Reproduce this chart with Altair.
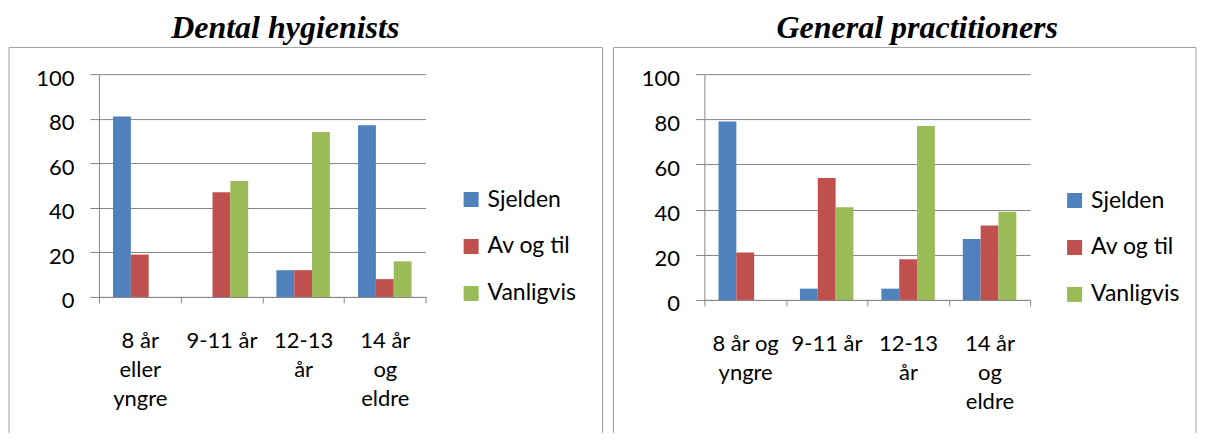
import altair as alt
import pandas as pd

# ---- data -------------------------------------------------------------
series = ["Sjelden", "Av og til", "Vanligvis"]
series_colors = ["#4F81BD", "#C0504D", "#9BBB59"]
y_ticks = [0, 20, 40, 60, 80, 100]

dh_title = "Dental hygienists"
dh_categories = ["8 år|eller|yngre", "9-11 år", "12-13|år", "14 år|og|eldre"]
dh_sjelden = [81, 0, 12, 77]
dh_av_og_til = [19, 47, 12, 8]
dh_vanligvis = [0, 52, 74, 16]

gp_title = "General practitioners"
gp_categories = ["8 år og|yngre", "9-11 år", "12-13|år", "14 år|og|eldre"]
gp_sjelden = [79, 5, 5, 27]
gp_av_og_til = [21, 54, 18, 33]
gp_vanligvis = [0, 41, 77, 39]

# ---- style ------------------------------------------------------------
GRID = "#868686"
BORDER = "#a0a0a0"
FONT = "Lato"
TITLE_FONT = "Liberation Serif"


def long_table(cats, cols):
    rows = []
    for s, vals in zip(series, cols):
        for c, v in zip(cats, vals):
            rows.append({"cat": c, "series": s, "value": v})
    return pd.DataFrame(rows)


def panel(title, cats, cols, width, height, title_dx, frame, legend_xy):
    left, top, right, bottom = frame
    df = long_table(cats, cols)
    bars = alt.Chart(df).mark_bar().encode(
        x=alt.X(
            "cat:N", sort=cats, title=None,
            scale=alt.Scale(paddingInner=0, paddingOuter=0),
            axis=alt.Axis(
                tickBand="extent", labelAngle=0,
                labelExpr="split(datum.label, '|')",
                labelFont=FONT, labelFontSize=22, labelColor="black",
                labelLineHeight=29, labelPadding=28, labelOverlap=False,
                labelLimit=300, tickSize=6, tickColor=GRID, tickWidth=1,
                domainColor=GRID, domainWidth=1, grid=False,
            ),
        ),
        xOffset=alt.XOffset(
            "series:N", sort=series,
            scale=alt.Scale(paddingInner=0, paddingOuter=0.79),
        ),
        y=alt.Y(
            "value:Q", title=None,
            scale=alt.Scale(domain=[0, 100]),
            axis=alt.Axis(
                values=y_ticks, grid=True, gridColor=GRID, gridWidth=1,
                tickSize=9, tickColor=GRID, domainColor=GRID,
                labelFont=FONT, labelFontSize=22, labelColor="black",
                labelPadding=16, labelOffset=4,
            ),
        ),
        color=alt.Color(
            "series:N", sort=series,
            scale=alt.Scale(domain=series, range=series_colors),
            legend=alt.Legend(
                title=None, orient="none",
                legendX=legend_xy[0], legendY=legend_xy[1],
                symbolType="square", symbolSize=225, symbolStrokeWidth=0,
                labelFont=FONT, labelFontSize=23, labelColor="black",
                rowPadding=23, labelOffset=5, padding=0,
            ),
        ),
    ).properties(width=width, height=height)

    one = pd.DataFrame({"k": [0]})
    top_rule = alt.Chart(one).mark_rule(color=BORDER, strokeWidth=1).encode(
        x=alt.value(left), x2=alt.value(right), y=alt.value(top))
    left_rule = alt.Chart(one).mark_rule(color=BORDER, strokeWidth=1).encode(
        x=alt.value(left), y=alt.value(top), y2=alt.value(bottom))
    right_rule = alt.Chart(one).mark_rule(color=BORDER, strokeWidth=1).encode(
        x=alt.value(right), y=alt.value(top), y2=alt.value(bottom))

    return alt.layer(bars, top_rule, left_rule, right_rule).properties(
        title=alt.TitleParams(
            title, font=TITLE_FONT, fontSize=32, fontStyle="italic",
            fontWeight="bold", color="black", anchor="middle",
            frame="group", dx=title_dx, offset=2,
        )
    )


left_panel = panel(
    dh_title, dh_categories, [dh_sjelden, dh_av_og_til, dh_vanligvis],
    327, 223, 23, (-90, -26.7, 504, 359), (361, 114),
)
right_panel = panel(
    gp_title, gp_categories, [gp_sjelden, gp_av_og_til, gp_vanligvis],
    326, 226, 50, (-91, -26.7, 492, 359), (359, 115),
)

chart = (
    alt.hconcat(left_panel, right_panel, spacing=9)
    .resolve_scale(color="independent", x="independent", y="independent")
    .resolve_legend(color="independent")
    .properties(padding={"top": 3, "left": 0, "right": 0, "bottom": 0})
    .configure_view(stroke=None)
)

chart.save("out.html", embed_options={"renderer": "svg", "actions": False})
